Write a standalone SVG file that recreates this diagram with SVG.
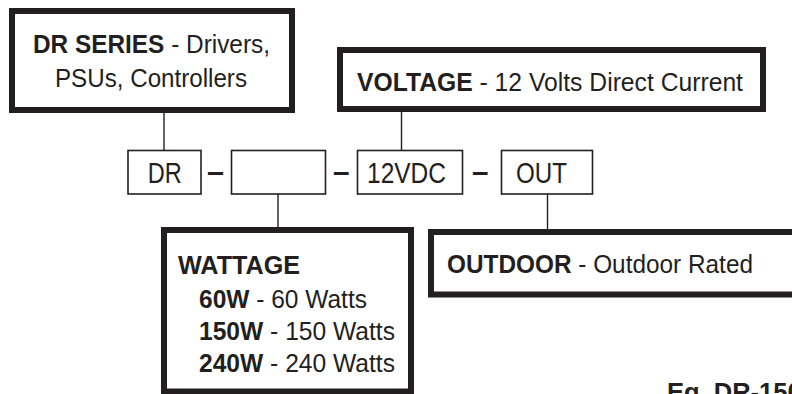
<svg xmlns="http://www.w3.org/2000/svg" width="792" height="394" viewBox="0 0 792 394">
<style>
  .big { fill: #fff; stroke: #231f20; stroke-width: 6; }
  .small { fill: #fff; stroke: #231f20; stroke-width: 1.6; }
  .conn { stroke: #231f20; stroke-width: 1.4; fill: none; }
  text { font-family: "Liberation Sans", Arial, sans-serif; fill: #231f20; }
  .t { font-size: 25.5px; }
  .b { font-weight: bold; }
  .code { font-size: 30px; }
  .dash { font-size: 30px; font-weight: bold; }
</style>
<rect width="792" height="394" fill="#fff"/>
<g id="connectors">
  <line class="conn" x1="164" y1="112" x2="164" y2="150"/>
  <line class="conn" x1="401.5" y1="110" x2="401.5" y2="150"/>
  <line class="conn" x1="278" y1="194" x2="278" y2="228"/>
  <line class="conn" x1="547.5" y1="194" x2="547.5" y2="230"/>
</g>
<g id="dr-series">
  <rect class="big" x="12" y="11" width="280" height="99"/>
  <text class="t" x="33" y="52.5" textLength="237" lengthAdjust="spacingAndGlyphs"><tspan class="b">DR SERIES</tspan> - Drivers,</text>
  <text class="t" x="55" y="87" textLength="192" lengthAdjust="spacingAndGlyphs">PSUs, Controllers</text>
</g>
<g id="voltage">
  <rect class="big" x="340" y="50" width="423" height="59"/>
  <text class="t" x="357" y="91" textLength="386" lengthAdjust="spacingAndGlyphs"><tspan class="b">VOLTAGE</tspan> - 12 Volts Direct Current</text>
</g>
<g id="code-dr">
  <rect class="small" x="128" y="150.5" width="73" height="43.5"/>
  <text class="code" x="147.7" y="183" textLength="34" lengthAdjust="spacingAndGlyphs">DR</text>
</g>
<g id="sep1"><text class="dash" x="207" y="182" textLength="17" lengthAdjust="spacingAndGlyphs">–</text></g>
<g id="code-wattage">
  <rect class="small" x="231.5" y="150.5" width="94" height="43.5"/>
</g>
<g id="sep2"><text class="dash" x="333" y="182" textLength="16.5" lengthAdjust="spacingAndGlyphs">–</text></g>
<g id="code-12vdc">
  <rect class="small" x="357.5" y="150.5" width="105" height="43.5"/>
  <text class="code" x="367" y="183" textLength="79" lengthAdjust="spacingAndGlyphs">12VDC</text>
</g>
<g id="sep3"><text class="dash" x="472" y="182" textLength="16.5" lengthAdjust="spacingAndGlyphs">–</text></g>
<g id="code-out">
  <rect class="small" x="501.5" y="150.5" width="91" height="43.5"/>
  <text class="code" x="516" y="183" textLength="51" lengthAdjust="spacingAndGlyphs">OUT</text>
</g>
<g id="wattage">
  <rect class="big" x="164" y="230" width="247" height="161.5"/>
  <text class="t b" x="178" y="274" textLength="122" lengthAdjust="spacingAndGlyphs">WATTAGE</text>
  <text class="t" x="199" y="308" textLength="168" lengthAdjust="spacingAndGlyphs"><tspan class="b">60W</tspan> - 60 Watts</text>
  <text class="t" x="199" y="340" textLength="196" lengthAdjust="spacingAndGlyphs"><tspan class="b">150W</tspan> - 150 Watts</text>
  <text class="t" x="199" y="372" textLength="196" lengthAdjust="spacingAndGlyphs"><tspan class="b">240W</tspan> - 240 Watts</text>
</g>
<g id="outdoor">
  <rect class="big" x="431" y="232" width="400" height="62.5"/>
  <text class="t" x="447" y="273" textLength="306" lengthAdjust="spacingAndGlyphs"><tspan class="b">OUTDOOR</tspan> - Outdoor Rated</text>
</g>
<g id="example">
  <text class="t b" x="667" y="401">Eg. DR-150</text>
</g>
</svg>
